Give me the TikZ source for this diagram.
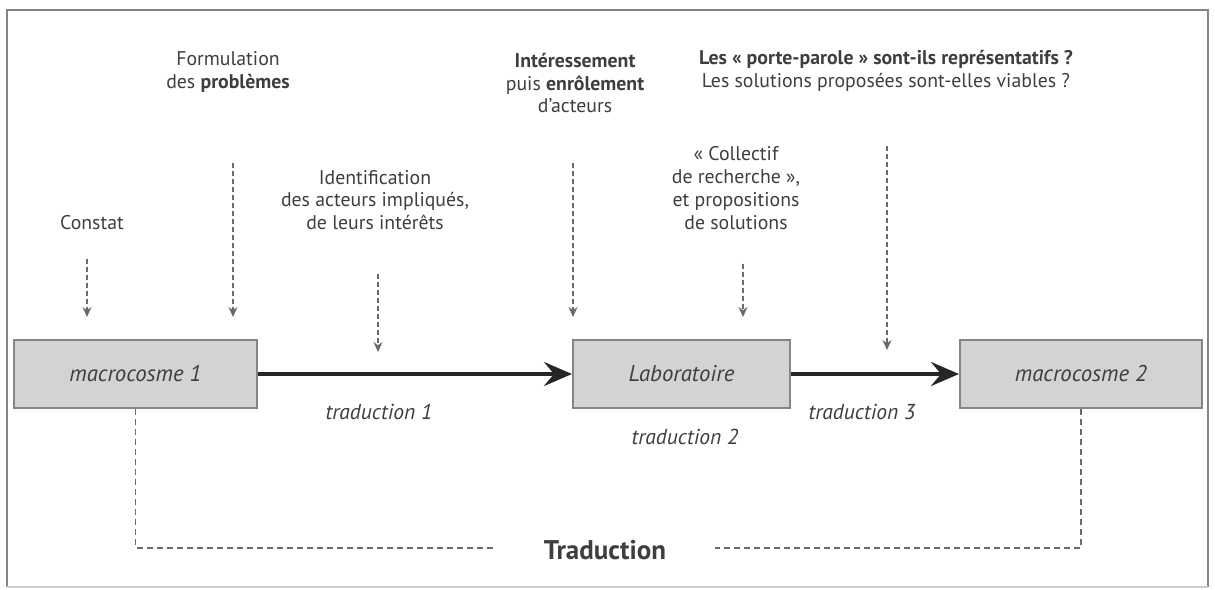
\documentclass[tikz,border=0pt]{standalone}
\usepackage{fontspec}
\setmainfont{PT Sans}
\usetikzlibrary{arrows.meta,positioning}
\definecolor{boxgray}{HTML}{D3D3D3}
\definecolor{edgegray}{HTML}{858585}
\definecolor{txtgray}{HTML}{3E3E3E}
\definecolor{dashgray}{HTML}{6A6A6A}

\begin{document}
\begin{tikzpicture}[x=0.5pt,y=-0.5pt,
  every node/.style={font=\fontsize{9.9}{11.4}\selectfont, text=txtgray},
  lbl/.style={align=center, inner sep=1pt},
  cosmos/.style={draw=edgegray, line width=1pt, fill=boxgray, minimum height=34pt,
                 inner sep=0pt, font=\fontsize{11.4}{13}\selectfont\itshape},
  trad/.style={font=\fontsize{10.8}{13}\selectfont\itshape},
  bigarr/.style={line width=2pt, black!85, -{Stealth[length=14pt,width=12pt,inset=5pt]}},
  dasharr/.style={dash pattern=on 2.5pt off 1.5pt, dashgray, line width=0.7pt,
                  -{Stealth[length=5pt,width=4.5pt]}},
  link/.style={dash pattern=on 3pt off 2pt, dashgray, line width=0.6pt}
]
\useasboundingbox (0,0) rectangle (1215,589);
\draw[edgegray, line width=1pt] (7,587) -- (7,10) -- (1208,10) -- (1208,587);
\draw[edgegray!40, line width=0.6pt] (7,587) -- (1208,587);

% Main row
\node[cosmos, minimum width=121.5pt] (macro1) at (135.5,374) {macrocosme 1};
\node[cosmos, minimum width=108.5pt] (labo)   at (681.5,374) {Laboratoire};
\node[cosmos, minimum width=121pt]   (macro2) at (1081,374)  {macrocosme 2};

\draw[bigarr] (macro1) -- (labo);
\draw[bigarr] (labo) -- (macro2);

\node[trad] (trad1) at (379,412) {traduction 1};
\node[trad] (trad2) at (685,437) {traduction 2};
\node[trad] (trad3) at (862,412) {traduction 3};

% Upper labels
\node[lbl] (constat) at (92,223)  {Constat};
\node[lbl] (formul)  at (228,72)  {Formulation\\des \textbf{problèmes}};
\node[lbl] (ident)   at (375,200) {Identification\\des acteurs impliqués,\\de leurs intérêts};
\node[lbl] (interes) at (575,83)  {\textbf{Intéressement}\\puis \textbf{enrôlement}\\d’acteurs};
\node[lbl] (collect) at (736,188) {« Collectif\\de recherche »,\\et propositions\\de solutions};
\node[lbl] (porte)   at (886,71)  {\textbf{Les « porte-parole » sont-ils représentatifs ?}\\Les solutions proposées sont-elles viables ?};

% Tips of the dashed arrows
\coordinate (tipA) at (87,317);
\coordinate (tipB) at (233,317);
\coordinate (tipC) at (378,352);
\coordinate (tipD) at (573,317);
\coordinate (tipE) at (743,317);
\coordinate (tipF) at (887,350);

\draw[dasharr] ([yshift=-13pt]constat.south -| tipA) -- (tipA);
\draw[dasharr] ([yshift=-34pt]formul.south -| tipB)  -- (tipB);
\draw[dasharr] ([yshift=-21pt]ident.south -| tipC)   -- (tipC);
\draw[dasharr] ([yshift=-24pt]interes.south -| tipD) -- (tipD);
\draw[dasharr] ([yshift=-16pt]collect.south -| tipE) -- (tipE);
\draw[dasharr] ([yshift=-26pt]porte.south -| tipF)   -- (tipF);

% Traduction link
\node[font=\fontsize{13.5}{15}\selectfont\bfseries] (trad) at (605,550) {Traduction};
\coordinate (linkL) at (494,548);
\coordinate (linkR) at (715,548);
\draw[link] (macro1.south) -- (macro1.south |- linkL) -- (linkL);
\draw[link] (macro2.south) -- (macro2.south |- linkR) -- (linkR);
\end{tikzpicture}
\end{document}
